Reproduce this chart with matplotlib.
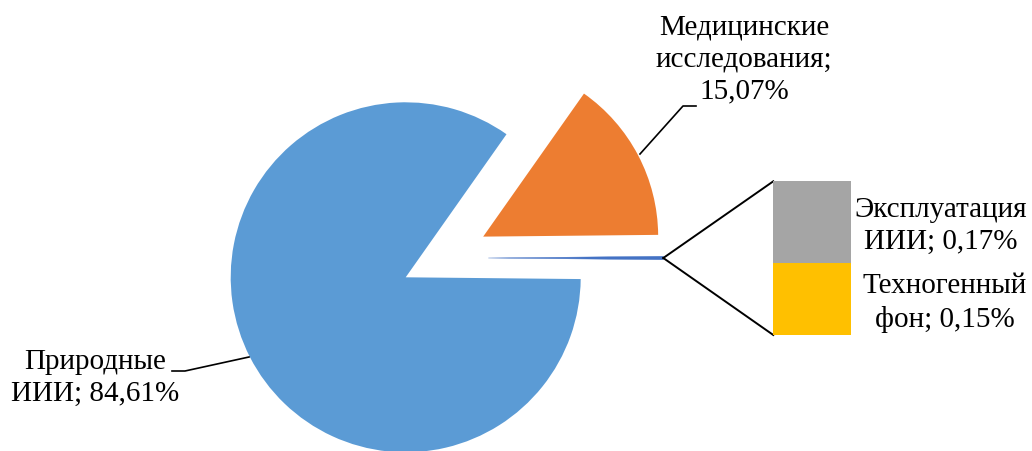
import matplotlib
matplotlib.use("Agg")
import matplotlib.pyplot as plt

# main pie: medical research and natural sources; the small remainder is split in the bar
pie_labels = ["Медицинские\nисследования;\n15,07%", "Природные\nИИИ; 84,61%"]
pie_values = [15.07, 84.61]
pie_colors = ["#ED7D31", "#5B9BD5"]

# secondary bar (bottom to top)
bar_labels = ["Техногенный\nфон; 0,15%", "Эксплуатация\nИИИ; 0,17%"]
bar_values = [0.15, 0.17]
bar_colors = ["#FFC000", "#A5A5A5"]

other = sum(bar_values)

plt.rcParams["font.family"] = ["Liberation Serif", "DejaVu Serif"]

W, H = 1032, 452
fig = plt.figure(figsize=(W / 100, H / 100), dpi=100)
ax = fig.add_axes([0, 0, 1, 1])

R = 175
center = (405.7, H - 278.3)
wedges, _ = ax.pie([other] + pie_values,
                   colors=["#4472C4"] + pie_colors,
                   startangle=-other * 3.6 / 2, counterclock=True,
                   radius=R, center=center, explode=[0, 0.5 * R, 0],
                   wedgeprops=dict(linewidth=0))
# the "other" slice sits a little above the axis line
wedges[0].set_center((663.3 - R, H - 259))
wedges[0].set_edgecolor("#4472C4")
wedges[0].set_linewidth(0.3)

ax.set_xlim(0, W)
ax.set_ylim(0, H)
ax.set_aspect("auto")
ax.axis("off")

# stacked bar in its own axes
bx0, bx1, by0, by1 = 773.3, 851, H - 336, H - 182.3
bax = fig.add_axes([bx0 / W, by0 / H, (bx1 - bx0) / W, (by1 - by0) / H])
bottom = 0
for v, c in zip(bar_values, bar_colors):
    bax.bar(0, v, bottom=bottom, width=1, color=c, linewidth=0)
    bottom += v
bax.set_xlim(-0.5, 0.5)
bax.set_ylim(0, other)
bax.axis("off")

# connector lines from the small slice to the bar
tip = (wedges[0].center[0] + R, wedges[0].center[1])
ax.plot([tip[0], bx0], [tip[1], by1], color="black", lw=1.4)
ax.plot([tip[0], bx0], [tip[1], by0], color="black", lw=1.4)

fs = 21
ls = 1.3
# leader lines and labels
ax.plot([640, 683, 696], [H - 155, H - 107, H - 107], color="black", lw=1.2)
ax.plot([249, 185, 172], [H - 358, H - 372, H - 372], color="black", lw=1.2)
ax.text(744, H - 59, pie_labels[0], ha="center", va="center",
        fontsize=fs, linespacing=ls)
ax.text(95, H - 378, pie_labels[1], ha="center", va="center",
        fontsize=fs, linespacing=ls)
ax.text(941, H - 226, bar_labels[1], ha="center", va="center",
        fontsize=fs, linespacing=ls)
ax.text(945, H - 303, bar_labels[0], ha="center", va="center",
        fontsize=fs, linespacing=ls)

fig.savefig("out.png", dpi=100)
